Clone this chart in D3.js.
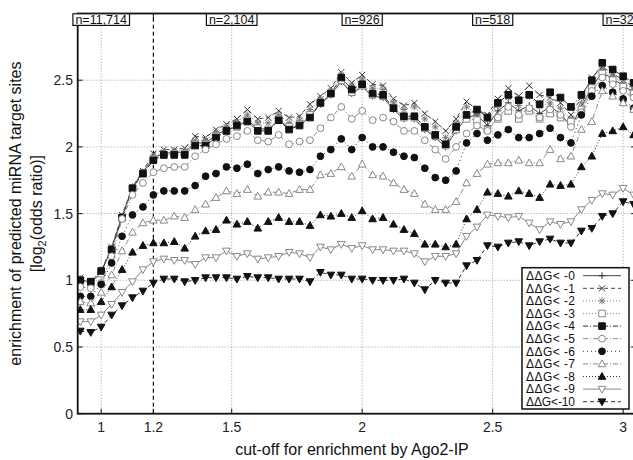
<!DOCTYPE html>
<html>
<head>
<meta charset="utf-8">
<script src="https://cdn.jsdelivr.net/npm/d3@7"></script>
<style>
  body { margin: 0; background: #fff; }
  svg { display: block; font-family: "Liberation Sans", Arial, sans-serif; }
</style>
</head>
<body>
<div id="chart"></div>
<script>
// cut-off values (x) shared by every series
var cutoffs = [0.92, 0.96, 1.00, 1.04, 1.08, 1.12, 1.16, 1.20, 1.24, 1.28,
  1.32, 1.36, 1.40, 1.44, 1.48, 1.52, 1.56, 1.60, 1.64, 1.68,
  1.72, 1.76, 1.80, 1.84, 1.88, 1.92, 1.96, 2.00, 2.04, 2.08,
  2.12, 2.16, 2.20, 2.24, 2.28, 2.32, 2.36, 2.40, 2.44, 2.48,
  2.52, 2.56, 2.60, 2.64, 2.68, 2.72, 2.76, 2.80, 2.84, 2.88,
  2.92, 2.96, 3.00, 3.04];

var dg0 = [1.01, 0.98, 1.06, 1.24, 1.48, 1.70, 1.81, 1.92, 1.95, 1.96,
  1.96, 2.03, 2.03, 2.09, 2.13, 2.15, 2.20, 2.14, 2.13, 2.20,
  2.14, 2.16, 2.23, 2.32, 2.39, 2.49, 2.40, 2.45, 2.38, 2.37,
  2.28, 2.21, 2.21, 2.13, 2.07, 2.00, 2.12, 2.22, 2.24, 2.16,
  2.27, 2.33, 2.27, 2.31, 2.25, 2.30, 2.25, 2.15, 2.30, 2.45,
  2.56, 2.51, 2.46, 2.41];
var dg1 = [1.02, 0.99, 1.07, 1.25, 1.49, 1.70, 1.82, 1.95, 1.98, 1.98,
  1.99, 2.08, 2.07, 2.13, 2.17, 2.21, 2.28, 2.21, 2.22, 2.27,
  2.22, 2.23, 2.32, 2.38, 2.44, 2.56, 2.48, 2.54, 2.47, 2.46,
  2.36, 2.31, 2.33, 2.25, 2.19, 2.12, 2.21, 2.34, 2.28, 2.24,
  2.36, 2.44, 2.38, 2.46, 2.39, 2.37, 2.33, 2.24, 2.37, 2.52,
  2.60, 2.55, 2.50, 2.45];
var dg2 = [1.01, 0.98, 1.06, 1.24, 1.48, 1.69, 1.81, 1.93, 1.96, 1.97,
  1.97, 2.05, 2.05, 2.11, 2.15, 2.19, 2.24, 2.18, 2.18, 2.24,
  2.18, 2.20, 2.28, 2.36, 2.42, 2.54, 2.46, 2.51, 2.44, 2.43,
  2.33, 2.28, 2.30, 2.21, 2.15, 2.07, 2.18, 2.30, 2.25, 2.20,
  2.31, 2.37, 2.31, 2.38, 2.30, 2.33, 2.29, 2.21, 2.33, 2.47,
  2.58, 2.53, 2.48, 2.43];
var dg3 = [1.00, 0.98, 1.05, 1.23, 1.47, 1.69, 1.80, 1.91, 1.94, 1.95,
  1.95, 2.02, 2.02, 2.08, 2.12, 2.15, 2.20, 2.14, 2.13, 2.21,
  2.15, 2.17, 2.24, 2.33, 2.40, 2.50, 2.41, 2.46, 2.39, 2.38,
  2.29, 2.22, 2.22, 2.14, 2.08, 2.01, 2.13, 2.21, 2.20, 2.13,
  2.21, 2.27, 2.21, 2.27, 2.21, 2.25, 2.22, 2.19, 2.28, 2.44,
  2.55, 2.50, 2.45, 2.40];
var dg4 = [1.00, 0.99, 1.07, 1.23, 1.47, 1.69, 1.80, 1.90, 1.94, 1.94,
  1.94, 2.01, 2.01, 2.07, 2.12, 2.16, 2.19, 2.12, 2.12, 2.20,
  2.13, 2.16, 2.22, 2.33, 2.40, 2.52, 2.43, 2.47, 2.40, 2.39,
  2.29, 2.23, 2.23, 2.15, 2.09, 2.02, 2.15, 2.24, 2.28, 2.22,
  2.33, 2.39, 2.35, 2.39, 2.32, 2.41, 2.37, 2.30, 2.39, 2.50,
  2.63, 2.58, 2.53, 2.48];
var dg5 = [0.95, 0.94, 0.98, 1.18, 1.46, 1.64, 1.73, 1.81, 1.84, 1.85,
  1.85, 1.93, 1.98, 2.02, 2.06, 2.08, 2.12, 2.05, 2.04, 2.09,
  2.02, 2.04, 2.05, 2.14, 2.22, 2.30, 2.21, 2.27, 2.20, 2.22,
  2.19, 2.12, 2.12, 2.05, 1.98, 1.91, 2.00, 2.10, 2.16, 2.12,
  2.22, 2.30, 2.24, 2.29, 2.22, 2.28, 2.24, 2.15, 2.26, 2.42,
  2.52, 2.47, 2.42, 2.37];
var dg6 = [0.88, 0.88, 0.97, 1.13, 1.33, 1.49, 1.55, 1.64, 1.67, 1.67,
  1.67, 1.71, 1.78, 1.80, 1.85, 1.84, 1.87, 1.80, 1.83, 1.85,
  1.82, 1.81, 1.83, 1.93, 1.98, 2.06, 1.98, 2.07, 2.00, 2.00,
  1.96, 1.93, 1.92, 1.84, 1.77, 1.75, 1.82, 2.03, 2.10, 2.05,
  2.09, 2.13, 2.07, 2.07, 2.10, 2.14, 2.07, 2.03, 2.24, 2.38,
  2.46, 2.41, 2.36, 2.29];
var dg7 = [0.84, 0.83, 0.91, 1.04, 1.22, 1.36, 1.43, 1.45, 1.45, 1.48,
  1.47, 1.53, 1.57, 1.62, 1.67, 1.65, 1.68, 1.63, 1.66, 1.66,
  1.65, 1.68, 1.68, 1.79, 1.80, 1.85, 1.78, 1.87, 1.79, 1.78,
  1.73, 1.68, 1.65, 1.57, 1.53, 1.53, 1.59, 1.73, 1.80, 1.87,
  1.88, 1.88, 1.90, 1.88, 1.88, 1.98, 1.91, 1.93, 2.13, 2.19,
  2.42, 2.38, 2.33, 2.28];
var dg8 = [0.78, 0.78, 0.84, 0.95, 1.08, 1.21, 1.26, 1.28, 1.28, 1.29,
  1.24, 1.33, 1.37, 1.38, 1.45, 1.42, 1.44, 1.39, 1.44, 1.47,
  1.44, 1.44, 1.41, 1.49, 1.48, 1.50, 1.47, 1.52, 1.46, 1.47,
  1.42, 1.38, 1.35, 1.27, 1.27, 1.25, 1.27, 1.46, 1.53, 1.66,
  1.65, 1.63, 1.67, 1.65, 1.62, 1.72, 1.71, 1.72, 1.85, 1.93,
  2.10, 2.12, 2.15, 2.09];
var dg9 = [0.69, 0.69, 0.74, 0.82, 0.91, 0.99, 1.08, 1.14, 1.16, 1.15,
  1.15, 1.12, 1.17, 1.17, 1.22, 1.18, 1.20, 1.16, 1.17, 1.18,
  1.21, 1.20, 1.17, 1.25, 1.23, 1.27, 1.24, 1.26, 1.23, 1.23,
  1.22, 1.22, 1.20, 1.14, 1.18, 1.18, 1.20, 1.33, 1.40, 1.49,
  1.48, 1.47, 1.48, 1.43, 1.38, 1.44, 1.42, 1.44, 1.53, 1.60,
  1.65, 1.64, 1.69, 1.64];
var dg10 = [0.62, 0.61, 0.65, 0.74, 0.81, 0.87, 0.92, 0.98, 1.01, 1.01,
  0.99, 1.00, 1.02, 1.02, 1.02, 1.01, 1.03, 1.02, 1.02, 1.01,
  1.01, 1.01, 0.99, 1.06, 1.04, 1.04, 1.01, 1.01, 1.00, 1.00,
  1.00, 1.01, 0.98, 0.93, 1.00, 0.98, 0.98, 1.11, 1.15, 1.26,
  1.25, 1.28, 1.29, 1.26, 1.29, 1.31, 1.28, 1.28, 1.37, 1.39,
  1.48, 1.50, 1.59, 1.57];

var seriesNames = ["\u0394\u0394G< -0", "\u0394\u0394G< -1", "\u0394\u0394G< -2", "\u0394\u0394G< -3",
  "\u0394\u0394G< -4", "\u0394\u0394G< -5", "\u0394\u0394G< -6", "\u0394\u0394G< -7",
  "\u0394\u0394G< -8", "\u0394\u0394G< -9", "\u0394\u0394G<-10"];
var seriesValues = [dg0, dg1, dg2, dg3, dg4, dg5, dg6, dg7, dg8, dg9, dg10];

var xTicks = [1, 1.2, 1.5, 2, 2.5, 3];
var yTicks = [0, 0.5, 1, 1.5, 2, 2.5];
var xGrid = [1, 1.5, 2, 2.5, 3];
var yGrid = [0.5, 1, 1.5, 2, 2.5];
var countAt = [1, 1.5, 2, 2.5, 3];
var countLabels = ["n=11,714", "n=2,104", "n=926", "n=518", "n=325"];

// line / marker look of each series (MATLAB style)
var styles = [
  {m: "plus",   line: "#444", mark: "#333", dash: null,      fill: "none"},
  {m: "cross",  line: "#444", mark: "#333", dash: "4,3",     fill: "none"},
  {m: "star",   line: "#888", mark: "#777", dash: "1,2",     fill: "none"},
  {m: "square", line: "#888", mark: "#888", dash: "1,2",     fill: "#fff"},
  {m: "square", line: "#333", mark: "#111", dash: "5,2,1,2", fill: "#111"},
  {m: "circle", line: "#888", mark: "#888", dash: "5,2,1,2", fill: "#fff"},
  {m: "circle", line: "#333", mark: "#111", dash: "1,3",     fill: "#111"},
  {m: "up",     line: "#888", mark: "#888", dash: "5,2,1,2", fill: "#fff"},
  {m: "up",     line: "#333", mark: "#111", dash: "1,2",     fill: "#111"},
  {m: "down",   line: "#888", mark: "#888", dash: null,      fill: "#fff"},
  {m: "down",   line: "#333", mark: "#111", dash: "4,3",     fill: "#111"}
];

var width = 633, height = 460;
var x = d3.scaleLinear().domain([0.91, 3.05]).range([77.7, 636.2]);
var y = d3.scaleLinear().domain([0, 3]).range([413.7, 13.5]);

function markerPath(type) {
  var s = 3.4;
  if (type == "plus") return "M" + (-s) + ",0H" + s + "M0," + (-s) + "V" + s;
  if (type == "cross") { var c = 3; return "M" + (-c) + "," + (-c) + "L" + c + "," + c + "M" + (-c) + "," + c + "L" + c + "," + (-c); }
  if (type == "star") { var c2 = 2.6; return "M" + (-s) + ",0H" + s + "M0," + (-s) + "V" + s +
    "M" + (-c2) + "," + (-c2) + "L" + c2 + "," + c2 + "M" + (-c2) + "," + c2 + "L" + c2 + "," + (-c2); }
  if (type == "square") { var q = 3.3; return "M" + (-q) + "," + (-q) + "H" + q + "V" + q + "H" + (-q) + "Z"; }
  if (type == "circle") { var r = 3.4; return "M" + r + ",0A" + r + "," + r + " 0 1,1 " + (-r) + ",0A" + r + "," + r + " 0 1,1 " + r + ",0Z"; }
  if (type == "up") return "M0,-4L3.8,2.8L-3.8,2.8Z";
  if (type == "down") return "M0,4L3.8,-2.8L-3.8,-2.8Z";
  return "";
}

var svg = d3.select("#chart").append("svg")
  .attr("width", width)
  .attr("height", height);

svg.append("rect").attr("width", width).attr("height", height).attr("fill", "#fff");

svg.append("clipPath").attr("id", "plot-clip")
  .append("rect")
  .attr("x", x.range()[0]).attr("y", y.range()[1])
  .attr("width", x.range()[1] - x.range()[0])
  .attr("height", y.range()[0] - y.range()[1]);

// grid
var grid = svg.append("g").attr("stroke", "#9a9a9a").attr("stroke-width", 1).attr("stroke-dasharray", "1,2");
grid.selectAll(".gx").data(xGrid).enter().append("line")
  .attr("x1", function(d) { return x(d); }).attr("x2", function(d) { return x(d); })
  .attr("y1", y.range()[0]).attr("y2", y.range()[1]);
grid.selectAll(".gy").data(yGrid).enter().append("line")
  .attr("x1", x.range()[0]).attr("x2", x.range()[1])
  .attr("y1", function(d) { return y(d); }).attr("y2", function(d) { return y(d); });

// dashed marker of the 1.2 cut-off
svg.append("line")
  .attr("x1", x(1.2)).attr("x2", x(1.2))
  .attr("y1", y.range()[0]).attr("y2", y.range()[1])
  .attr("stroke", "#111").attr("stroke-width", 1.2).attr("stroke-dasharray", "4,3");

// series
var plot = svg.append("g").attr("clip-path", "url(#plot-clip)");
var lineGen = d3.line()
  .x(function(d) { return x(d[0]); })
  .y(function(d) { return y(d[1]); });

seriesValues.forEach(function(vals, i) {
  var st = styles[i];
  var pts = cutoffs.map(function(c, j) { return [c, vals[j]]; });
  plot.append("path")
    .datum(pts)
    .attr("d", lineGen)
    .attr("fill", "none")
    .attr("stroke", st.line)
    .attr("stroke-width", 1)
    .attr("stroke-dasharray", st.dash);
  plot.append("g").selectAll("path").data(pts).enter().append("path")
    .attr("transform", function(d) { return "translate(" + x(d[0]) + "," + y(d[1]) + ")"; })
    .attr("d", markerPath(st.m))
    .attr("fill", st.fill)
    .attr("stroke", st.mark)
    .attr("stroke-width", 1);
});

// axes frame and ticks
var frame = svg.append("g");
var x0 = x.range()[0], x1 = x.range()[1], yb = y.range()[0], yt = y.range()[1];
frame.append("rect")
  .attr("x", x0).attr("y", yt).attr("width", x1 - x0).attr("height", yb - yt)
  .attr("fill", "none").attr("stroke", "#111").attr("stroke-width", 1.8);

frame.selectAll(".tb").data(xTicks).enter().append("path")
  .attr("d", function(d) { return "M" + x(d) + "," + yb + "v-5M" + x(d) + "," + yt + "v5"; })
  .attr("stroke", "#111").attr("stroke-width", 1);
frame.selectAll(".tl").data(yTicks).enter().append("path")
  .attr("d", function(d) { return "M" + x0 + "," + y(d) + "h5M" + x1 + "," + y(d) + "h-5"; })
  .attr("stroke", "#111").attr("stroke-width", 1);

svg.append("g").selectAll("text").data(xTicks).enter().append("text")
  .attr("x", function(d) { return x(d); })
  .attr("y", 432)
  .attr("text-anchor", "middle")
  .attr("font-size", 14)
  .attr("fill", "#222")
  .text(function(d) { return String(d); });

svg.append("g").selectAll("text").data(yTicks).enter().append("text")
  .attr("x", 73)
  .attr("y", function(d) { return y(d) + 5; })
  .attr("text-anchor", "end")
  .attr("font-size", 14)
  .attr("fill", "#222")
  .text(function(d) { return String(d); });

// axis titles
svg.append("text")
  .attr("x", 352).attr("y", 455)
  .attr("text-anchor", "middle")
  .attr("font-size", 16)
  .attr("fill", "#111")
  .text("cut-off for enrichment by Ago2-IP");

var yMid = (yb + yt) / 2;
svg.append("text")
  .attr("transform", "translate(21," + yMid + ") rotate(-90)")
  .attr("text-anchor", "middle")
  .attr("font-size", 16)
  .attr("fill", "#111")
  .text("enrichment of predicted miRNA target sites");

var t2 = svg.append("text")
  .attr("transform", "translate(42," + yMid + ") rotate(-90)")
  .attr("text-anchor", "middle")
  .attr("font-size", 16)
  .attr("fill", "#111");
t2.append("tspan").text("[log");
t2.append("tspan").attr("font-size", 11).attr("dy", 4).text("2");
t2.append("tspan").attr("dy", -4).text("(odds ratio)]");

// counts at the top
var counts = svg.append("g");
countAt.forEach(function(v, i) {
  var g = counts.append("g");
  var txt = g.append("text")
    .attr("x", x(v)).attr("y", 23.5)
    .attr("text-anchor", "middle")
    .attr("font-size", 12.5)
    .attr("fill", "#111")
    .text(countLabels[i]);
  var bb = txt.node().getBBox();
  g.insert("rect", "text")
    .attr("x", bb.x - 2.5).attr("y", 13.8)
    .attr("width", bb.width + 5).attr("height", 11.6)
    .attr("fill", "#fff").attr("stroke", "#111").attr("stroke-width", 1.2);
});

// legend
var legend = svg.append("g");
legend.append("rect")
  .attr("x", 522).attr("y", 267.7).attr("width", 107).attr("height", 141.3)
  .attr("fill", "#fff").attr("stroke", "#111").attr("stroke-width", 1.5);
seriesNames.forEach(function(name, i) {
  var st = styles[i];
  var ly = 275.7 + i * 12.6;
  legend.append("text")
    .attr("x", 526).attr("y", ly + 4.2)
    .attr("font-size", 12)
    .attr("textLength", 49)
    .attr("fill", "#111")
    .text(name);
  legend.append("line")
    .attr("x1", 583).attr("x2", 621).attr("y1", ly).attr("y2", ly)
    .attr("stroke", st.line).attr("stroke-width", 1)
    .attr("stroke-dasharray", st.dash);
  legend.append("path")
    .attr("transform", "translate(602," + ly + ")")
    .attr("d", markerPath(st.m))
    .attr("fill", st.fill)
    .attr("stroke", st.mark)
    .attr("stroke-width", 1);
});
</script>
</body>
</html>
